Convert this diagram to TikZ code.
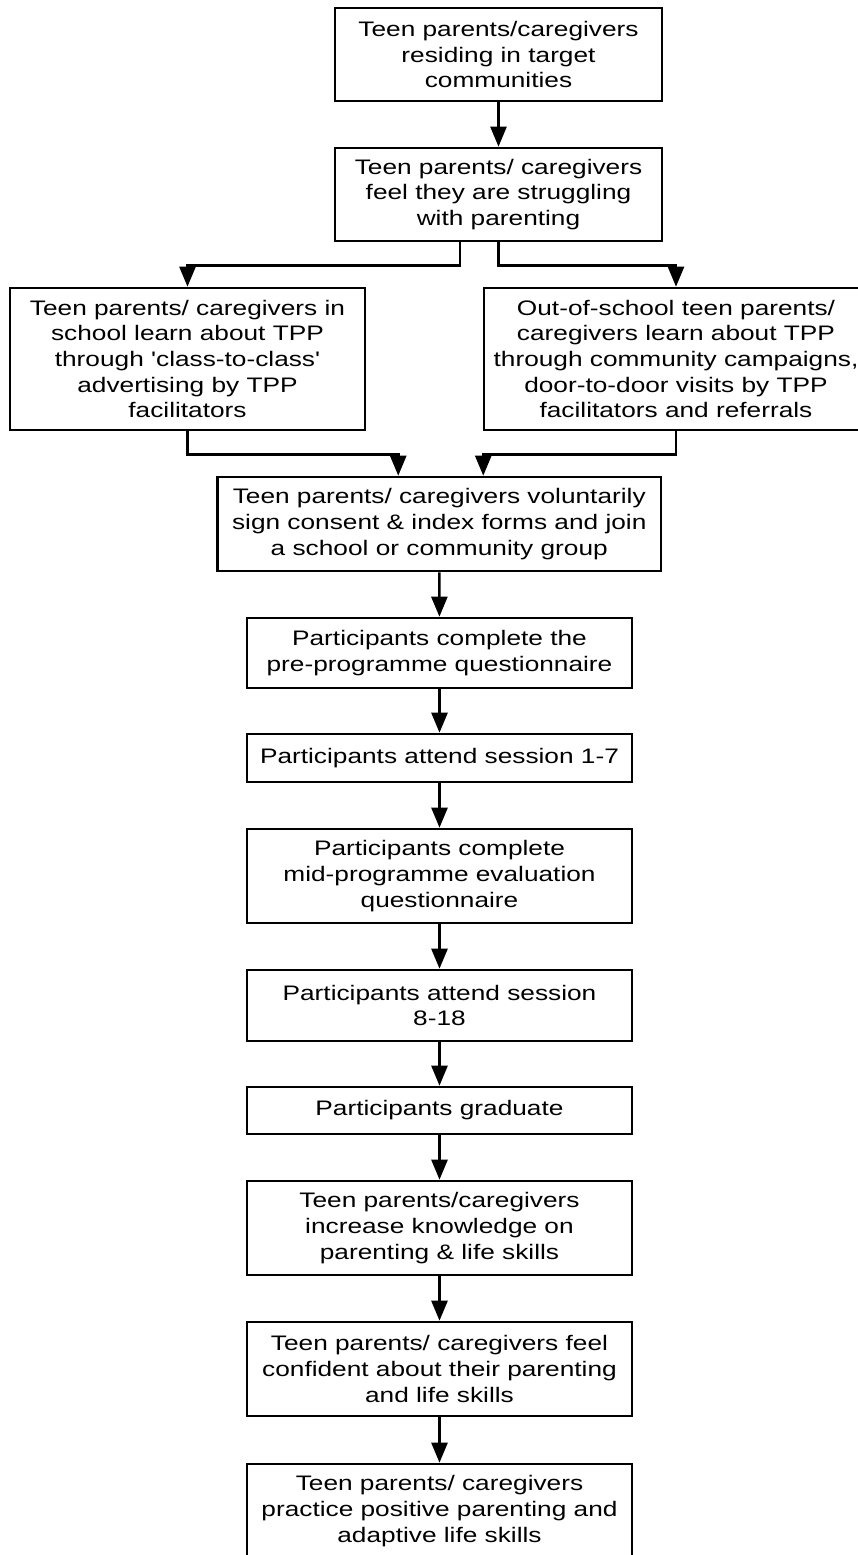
\documentclass[tikz,border=0pt]{standalone}
\usepackage{fontspec}
\setmainfont{Liberation Sans}[FakeStretch=1.25, Ligatures=TeXOff]
\usetikzlibrary{arrows.meta}

\tikzset{
  box/.style={draw, line width=2.6pt, inner sep=0pt, align=center,
              font=\fontsize{21pt}{25.7pt}\selectfont},
  arr/.style={line width=2.5pt, -{Triangle[length=20pt,width=16pt]}},
}

\begin{document}
\begin{tikzpicture}[x=1pt, y=-1pt]
\useasboundingbox (0,0) rectangle (857,1555);

% top of the pathway
\node[box, minimum width=327pt, minimum height=93pt] (b1) at (498.5,54.5)
  {Teen parents/caregivers\\residing in target\\communities};
\node[box, minimum width=327pt, minimum height=93pt] (b2) at (498.5,194.5)
  {Teen parents/ caregivers\\feel they are struggling\\with parenting};

% two recruitment routes
\node[box, minimum width=355pt, minimum height=142pt] (bL) at (187.5,359)
  {Teen parents/ caregivers in\\school learn about TPP\\through 'class-to-class'\\advertising by TPP\\facilitators};
\node[box, minimum width=384pt, minimum height=142pt] (bR) at (676,359)
  {Out-of-school teen parents/\\caregivers learn about TPP\\through community campaigns,\\door-to-door visits by TPP\\facilitators and referrals};

% enrolment
\node[box, minimum width=443.5pt, minimum height=94pt] (b3) at (439.25,524)
  {Teen parents/ caregivers voluntarily\\sign consent \& index forms and join\\a school or community group};

% programme steps
\node[box, minimum width=385pt, minimum height=70pt] (b4) at (439.5,653)
  {Participants complete the\\pre-programme questionnaire};
\node[box, minimum width=385pt, minimum height=48pt] (b5) at (439.5,758)
  {Participants attend session 1-7};
\node[box, minimum width=385pt, minimum height=94pt] (b6) at (439.5,876)
  {Participants complete\\mid-programme evaluation\\questionnaire};
\node[box, minimum width=385pt, minimum height=71pt] (b7) at (439.5,1005.5)
  {Participants attend session\\8-18};
\node[box, minimum width=385pt, minimum height=47pt] (b8) at (439.5,1110.5)
  {Participants graduate};

% outcomes
\node[box, minimum width=385pt, minimum height=94pt] (b9) at (439.5,1228)
  {Teen parents/caregivers\\increase knowledge on\\parenting \& life skills};
\node[box, minimum width=385pt, minimum height=94pt] (b10) at (439.5,1369)
  {Teen parents/ caregivers feel\\confident about their parenting\\and life skills};
\node[box, minimum width=385pt, minimum height=94pt] (b11) at (439.5,1511)
  {Teen parents/ caregivers\\practice positive parenting and\\adaptive life skills};

% connectors
\draw[arr] (b1) -- (b2);
\draw[arr] ([xshift=-38.5pt]b2.south) -- ++(0,23) -| (bL.north);
\draw[arr] (b2.south) -- ++(0,23) -| (bR.north);
\draw[arr] (bL.south) -- ++(0,23) -| ([xshift=-41pt]b3.north);
\draw[arr] (bR.south) -- ++(0,23) -| ([xshift=44pt]b3.north);
\draw[arr] (b3) -- (b4);
\draw[arr] (b4) -- (b5);
\draw[arr] (b5) -- (b6);
\draw[arr] (b6) -- (b7);
\draw[arr] (b7) -- (b8);
\draw[arr] (b8) -- (b9);
\draw[arr] (b9) -- (b10);
\draw[arr] (b10) -- (b11);
\end{tikzpicture}
\end{document}
